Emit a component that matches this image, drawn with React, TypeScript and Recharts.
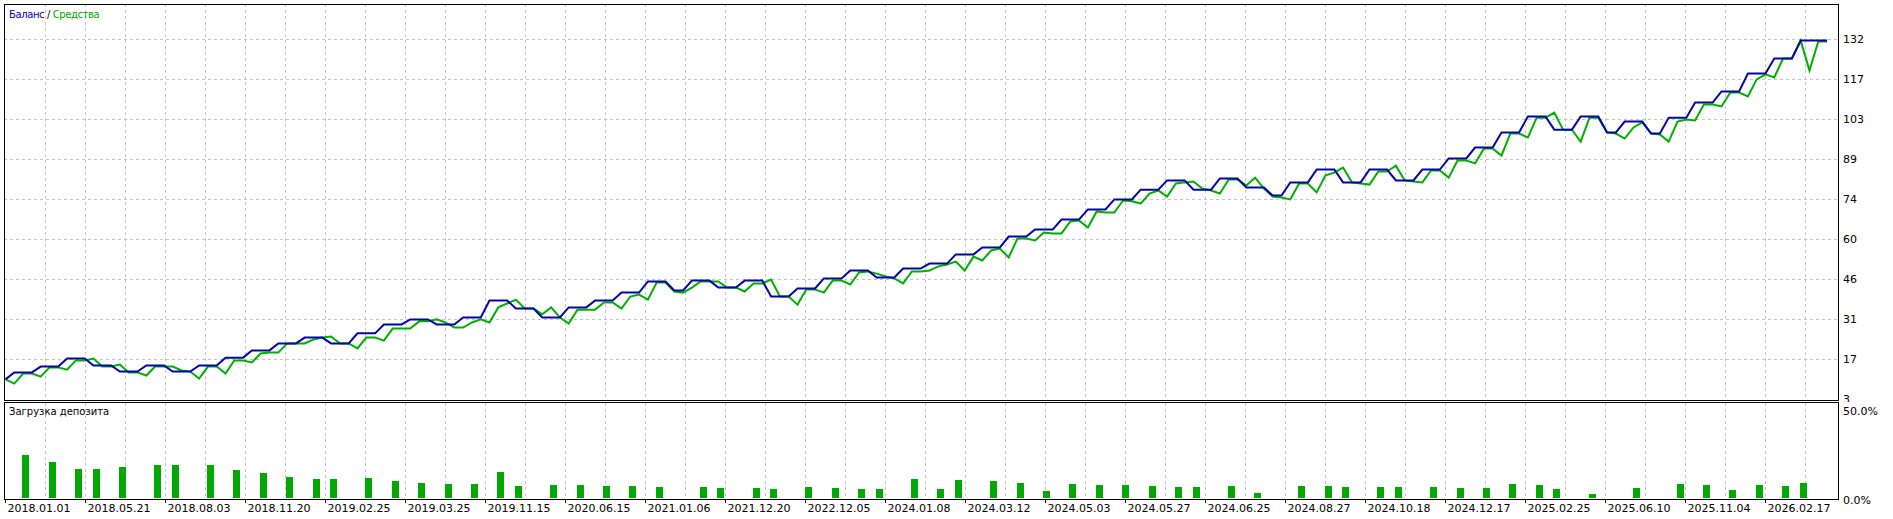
import { ComposedChart, Line, Bar, XAxis, YAxis, CartesianGrid } from 'recharts'

// MT5 tester graph: balance / equity by deal number, deposit load below

const balance = [
  10.2,
  12.7, 12.7, 12.7, 14.8, 14.8, 14.8, 17.7, 17.7, 17.7, 15.2, 15.2, 15.2,
  13.0, 13.0, 13.0, 15.2, 15.2, 15.2, 13.0, 13.0, 13.0, 15.2, 15.2, 15.2,
  18.0, 18.0, 18.0, 20.6, 20.6, 20.6, 23.1, 23.1, 23.1, 25.2, 25.2, 25.2,
  23.1, 23.1, 23.1, 26.7, 26.7, 26.7, 29.9, 29.9, 29.9, 31.7, 31.7, 31.7,
  29.9, 29.9, 29.9, 32.4, 32.4, 32.4, 38.5, 38.5, 38.5, 35.6, 35.6, 35.6,
  32.4, 32.4, 32.4, 36.0, 36.0, 36.0, 38.5, 38.5, 38.5, 41.3, 41.3, 41.3,
  45.3, 45.3, 45.3, 42.1, 42.1,
  45.6, 45.6, 45.6, 43.1, 43.1, 43.1, 45.6, 45.6, 45.6, 39.9, 39.9, 39.9,
  42.8, 42.8, 42.8, 46.4, 46.4, 46.4, 49.2, 49.2, 49.2, 46.7, 46.7, 46.7,
  49.9, 49.9, 49.9, 51.7, 51.7, 51.7, 55.0, 55.0, 55.0, 57.5, 57.5, 57.5,
  61.4, 61.4, 61.4, 63.9, 63.9, 63.9, 67.5, 67.5, 67.5, 71.1, 71.1, 71.1,
  74.7, 74.7, 74.7, 78.2, 78.2, 78.2, 81.5, 81.5, 81.5, 78.2, 78.2, 78.2,
  82.2, 82.2, 82.2, 79.0, 79.0, 79.0, 76.1, 76.1,
  80.8, 80.8, 80.8, 85.4, 85.4, 85.4, 80.8, 80.8, 80.8, 85.4, 85.4, 85.4,
  81.5, 81.5, 81.5, 85.4, 85.4, 85.4, 89.4, 89.4, 89.4, 93.3, 93.3, 93.3,
  98.7, 98.7, 98.7, 104.4, 104.4, 104.4, 99.7, 99.7, 99.7, 104.4, 104.4, 104.4,
  98.7, 98.7, 102.6, 102.6, 102.6, 98.3, 98.3,
  104.0, 104.0, 104.0, 109.4, 109.4, 109.4, 113.4, 113.4, 113.4,
  119.8, 119.8, 119.8, 125.2, 125.2, 125.2, 131.6, 131.6, 131.6, 131.6,
]

const equity = [
  10.2, 8.7, 12.3, 12.3, 11.2, 14.5, 14.5, 13.7, 17.0, 17.0, 17.7, 14.8,
  14.8, 15.5, 12.7, 12.7, 11.6, 14.8, 14.8, 14.8, 13.4, 13.0, 10.5, 14.8,
  14.8, 12.3, 17.0, 17.0, 16.3, 19.5, 19.8, 19.8, 23.1, 23.1, 23.1, 24.5,
  25.2, 25.6, 23.1, 23.1, 21.3, 25.2, 25.2, 24.1, 28.4, 28.4, 28.4, 31.0,
  31.0, 31.7, 30.6, 28.8, 28.8, 30.6, 31.7, 30.6, 36.0, 37.4, 38.8, 35.6,
  35.6, 33.5, 36.0, 32.4, 30.2, 35.2, 35.2, 35.2, 37.8, 37.8, 35.6, 39.9,
  40.6, 38.8, 44.9, 44.9, 41.7, 41.3, 43.1, 45.3, 45.3, 45.3, 43.1, 43.1,
  41.7, 44.6, 44.6, 46.0, 39.9, 39.9, 37.0, 42.4, 42.4, 41.3, 45.6, 45.6,
  44.2, 48.5, 48.9, 48.1, 47.1, 46.4, 44.6, 48.9, 48.9, 49.2, 50.7, 51.4,
  52.4, 49.2, 54.2, 52.8, 56.4, 57.1, 53.9, 60.7, 60.7, 60.0, 62.8, 62.5,
  62.5, 66.8, 67.1, 64.6, 70.4, 70.0, 70.0, 74.3, 74.0, 73.2, 76.8, 77.9,
  75.7, 80.4, 80.8, 81.1, 78.6, 77.9, 76.8, 81.8, 81.8, 79.7, 82.5, 78.6,
  75.7, 75.4, 74.7, 80.4, 80.4, 77.2, 83.3, 84.3, 86.1, 80.8, 80.4, 80.0,
  84.7, 84.7, 86.8, 81.5, 81.1, 80.8, 85.1, 85.1, 82.5, 88.6, 88.6, 87.6,
  92.9, 92.9, 90.4, 98.3, 98.3, 96.9, 104.0, 104.0, 105.8, 99.7, 99.7, 95.4,
  104.0, 104.0, 98.7, 98.3, 96.5, 100.5, 102.3, 98.3, 98.0, 95.4, 102.6, 103.3,
  103.0, 108.7, 108.7, 108.0, 113.0, 113.0, 111.6, 117.7, 119.5, 118.4, 125.2, 125.2,
  131.6, 120.9, 131.3, 131.3,
]

const loadDeals = [
  2, 5, 8, 10, 13, 17, 19, 23, 26, 29, 32, 35, 37, 41, 44, 47, 50, 53, 56, 58,
  62, 65, 68, 71, 74, 79, 81, 85, 87, 91, 94, 97, 99, 103, 106, 108, 112, 115,
  118, 121, 124, 127, 130, 133, 135, 139, 142, 147, 150, 152, 156, 158, 162,
  165, 168, 171, 174, 176, 180, 185, 190, 193, 196, 199, 202, 204,
]
const loadPct = [
  22.5, 19.2, 15.4, 15.4, 16.5, 17.5, 17.5, 17.5, 14.9, 13.2, 11.1, 10.0, 10.0,
  10.6, 9.0, 7.9, 7.3, 7.3, 13.8, 6.3, 6.8, 6.8, 6.3, 6.3, 5.7, 5.7, 5.2, 5.2,
  4.7, 5.7, 5.2, 4.7, 4.7, 10.0, 4.7, 9.5, 9.0, 7.9, 3.6, 7.3, 6.8, 6.8, 6.3,
  5.7, 5.7, 6.3, 2.5, 6.3, 6.3, 5.7, 5.7, 5.7, 5.7, 5.2, 5.2, 7.3, 6.8, 4.7,
  2.0, 5.2, 7.3, 6.8, 4.1, 6.8, 6.3, 7.9,
]

const dateLabels = [
  '2018.01.01', '2018.05.21', '2018.08.03', '2018.11.20', '2019.02.25',
  '2019.03.25', '2019.11.15', '2020.06.15', '2021.01.06', '2021.12.20',
  '2022.12.05', '2024.01.08', '2024.03.12', '2024.05.03', '2024.05.27',
  '2024.06.25', '2024.08.27', '2024.10.18', '2024.12.17', '2025.02.25',
  '2025.06.10', '2025.11.04', '2026.02.17',
]

const yTicks = [3, 17.33, 31.67, 46, 60.33, 74.67, 89, 103.33, 117.67, 132]
const loadTicks = [0, 50]

const BLUE = '#0505A8'
const GREEN = '#00B000'
const BAR_GREEN = '#03A903'
const GRID = '#C4C4C4'
const FONT = '"DejaVu Sans", Verdana, sans-serif'

// a date label every 100/11 deals, a grid line every half of that
const labelEvery = 100 / 11
// domains padded so that grid lines land on pixel centres
const X_DOMAIN = [-0.17, 208.24]
const Y_DOMAIN = [2.82, 144.72]

const chartData = balance.map((b, i) => ({ deal: i, balance: b, equity: equity[i] }))
const loadData = loadDeals.map((d, i) => ({ deal: d, load: loadPct[i] }))
const labelTicks = dateLabels.map((_, i) => i * labelEvery)
const gridDeals = Array.from({ length: 45 }, (_, i) => ((i + 1) * labelEvery) / 2)
const noLabel = () => ''

function DateTick({ x, y, index }: any) {
  return (
    <g>
      <line x1={x} x2={x} y1={y + 1} y2={y + 5} stroke="#000" />
      <text x={x + 2} y={y + 10} dominantBaseline="central" fontSize={11} fill="#000">
        {dateLabels[index]}
      </text>
    </g>
  )
}

function LoadTick({ x, y, payload }: any) {
  return (
    <text x={x} y={y + (payload.value > 0 ? 8 : 2)} dominantBaseline="central" fontSize={11} fill="#000">
      {payload.value.toFixed(1) + '%'}
    </text>
  )
}

function LoadBar(p: any) {
  const bottom = p.y + p.height
  const top = Math.round(p.y)
  return <rect x={Math.round(p.x + 3)} y={top} width={p.width} height={Math.round(bottom) - top} fill={BAR_GREEN} />
}

const frame = {
  position: 'absolute' as const,
  left: 4,
  width: 1835,
  border: '1px solid #000',
  boxSizing: 'border-box' as const,
  pointerEvents: 'none' as const,
}

export default function App() {
  return (
    <div style={{ position: 'relative', width: 1893, height: 519, background: '#fff', fontFamily: FONT, overflow: 'hidden' }}>
      <style>{'body{margin:0}'}</style>

      <div style={{ position: 'absolute', left: 0, top: 0 }}>
        <ComposedChart width={1893} height={402} data={chartData} margin={{ top: 4, right: 0, bottom: 2, left: 4 }}>
          <CartesianGrid stroke={GRID} strokeDasharray="3 3" verticalValues={gridDeals} horizontalValues={yTicks.slice(1)} />
          <XAxis type="number" dataKey="deal" domain={X_DOMAIN} allowDataOverflow hide interval={0} tickFormatter={noLabel} />
          <YAxis
            orientation="right"
            width={55}
            domain={Y_DOMAIN}
            allowDataOverflow
            ticks={yTicks}
            interval={0}
            tickFormatter={(v: number) => String(Math.floor(v))}
            axisLine={false}
            tickLine={false}
            tickSize={0}
            tickMargin={5}
            tick={{ fill: '#000', fontSize: 11 }}
          />
          <Line type="linear" dataKey="equity" stroke={GREEN} strokeWidth={2} dot={false} isAnimationActive={false} />
          <Line type="linear" dataKey="balance" stroke={BLUE} strokeWidth={2} dot={false} isAnimationActive={false} />
        </ComposedChart>
      </div>

      <div style={{ position: 'absolute', left: 0, top: 402 }}>
        <ComposedChart width={1893} height={117} data={loadData} margin={{ top: 1, right: 0, bottom: 0, left: 4 }}>
          <CartesianGrid stroke={GRID} strokeDasharray="3 3" horizontal={false} verticalValues={gridDeals} />
          <XAxis
            type="number"
            dataKey="deal"
            domain={X_DOMAIN}
            allowDataOverflow
            ticks={labelTicks}
            interval={0}
            tickFormatter={noLabel}
            height={21}
            axisLine={false}
            tickLine={false}
            tickSize={0}
            tickMargin={0}
            tick={<DateTick />}
          />
          <YAxis
            orientation="right"
            width={55}
            domain={[0, 50]}
            allowDataOverflow
            ticks={loadTicks}
            interval={0}
            axisLine={false}
            tickLine={false}
            tickSize={0}
            tickMargin={5}
            tick={<LoadTick />}
          />
          <Bar dataKey="load" barSize={7} fill={BAR_GREEN} isAnimationActive={false} shape={LoadBar} />
        </ComposedChart>
      </div>

      <div style={{ ...frame, top: 4, height: 397 }} />
      <div style={{ ...frame, top: 402, height: 98 }} />

      <div style={{ position: 'absolute', left: 9, top: 9, fontSize: 10, lineHeight: '12px', letterSpacing: -0.4, whiteSpace: 'nowrap' }}>
        <span style={{ color: '#0000C8' }}>Баланс</span>
        <span style={{ color: '#000' }}> / </span>
        <span style={{ color: '#00A800' }}>Средства</span>
      </div>
      <div style={{ position: 'absolute', left: 9, top: 406, fontSize: 10, lineHeight: '12px', color: '#000', whiteSpace: 'nowrap' }}>
        Загрузка депозита
      </div>
    </div>
  )
}
